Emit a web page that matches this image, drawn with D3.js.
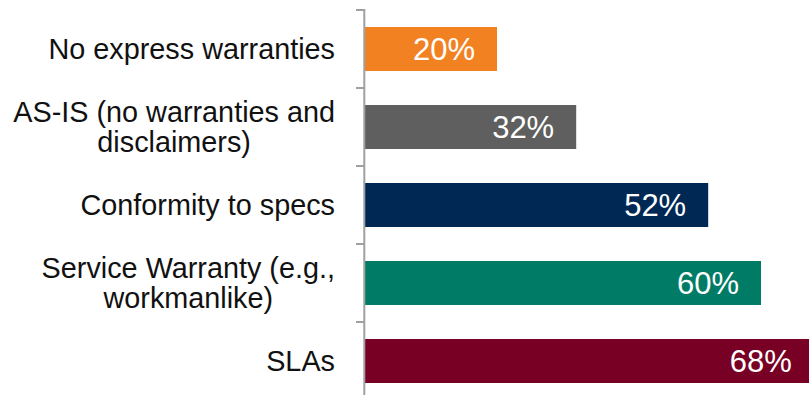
<!DOCTYPE html>
<html>
<head>
<meta charset="utf-8">
<script src="https://cdn.jsdelivr.net/npm/d3@7"></script>
<style>
    body { margin: 0; background: #fff; }
    svg { display: block; }
    .cat-label { font-family: "Liberation Sans", Arial, sans-serif; font-size: 28.8px; fill: #111; }
    .value-label { font-family: "Liberation Sans", Arial, sans-serif; font-size: 31px; fill: #fff; }
</style>
</head>
<body>
<div id="chart"></div>
<script>
// Chart data
var categories = ["No express warranties", "AS-IS (no warranties and disclaimers)", "Conformity to specs",
    "Service Warranty (e.g., workmanlike)", "SLAs"];
var labelLines = [
    ["No express warranties"],
    ["AS-IS (no warranties and", "disclaimers)"],
    ["Conformity to specs"],
    ["Service Warranty (e.g.,", "workmanlike)"],
    ["SLAs"]
];
var values = [20, 32, 52, 60, 68];
var colors = ["#f28221", "#5f5f5f", "#002855", "#007b65", "#780024"];

var width = 809,
    height = 395;

var svg = d3.select("#chart").append("svg")
    .attr("width", width)
    .attr("height", height);

// Scales
var x = d3.scaleLinear()
    .domain([0, 100])
    .range([365, 1025]);

var y = d3.scaleBand()
    .domain(categories)
    .range([10, 400])
    .paddingInner(0.436)
    .paddingOuter(0.218);

// Bars
svg.selectAll(".bar")
    .data(values)
    .enter().append("rect")
    .attr("class", "bar")
    .attr("x", x(0))
    .attr("y", function (d, i) { return y(categories[i]); })
    .attr("width", function (d) { return x(d) - x(0); })
    .attr("height", y.bandwidth())
    .attr("fill", function (d, i) { return colors[i]; });

// Value labels (inside end)
svg.selectAll(".value-label")
    .data(values)
    .enter().append("text")
    .attr("class", "value-label")
    .attr("x", function (d) { return x(d) - 22; })
    .attr("y", function (d, i) { return y(categories[i]) + y.bandwidth() / 2 + 11; })
    .attr("text-anchor", "end")
    .text(function (d) { return d + "%"; });

// Axis line with ticks at category boundaries
var axisColor = "#a0a0a0";
var halfGap = y.step() * y.paddingInner() / 2;
var boundaries = categories.map(function (c) { return y(c) - halfGap; });
boundaries.push(y(categories[categories.length - 1]) + y.bandwidth() + halfGap);

var axis = svg.append("g").attr("class", "y-axis");

axis.append("line")
    .attr("x1", x(0) - 0.7).attr("x2", x(0) - 0.7)
    .attr("y1", boundaries[0] - 1)
    .attr("y2", boundaries[boundaries.length - 1])
    .attr("stroke", axisColor)
    .attr("stroke-width", 2);

axis.selectAll(".tick")
    .data(boundaries)
    .enter().append("line")
    .attr("class", "tick")
    .attr("x1", x(0) - 9).attr("x2", x(0) - 0.7)
    .attr("y1", function (d) { return d; })
    .attr("y2", function (d) { return d; })
    .attr("stroke", axisColor)
    .attr("stroke-width", 2);

// Category labels: block right-aligned, lines centred within the block
var labelRight = 335,
    lineGap = 30;

labelLines.forEach(function (lines, i) {
    var center = y(categories[i]) + y.bandwidth() / 2;
    var g = svg.append("g").attr("class", "cat-group");
    var texts = lines.map(function (line, j) {
        return g.append("text")
            .attr("class", "cat-label")
            .attr("y", center + 10 + (j - (lines.length - 1) / 2) * lineGap)
            .attr("text-anchor", "middle")
            .text(line);
    });
    var blockWidth = d3.max(texts, function (t) { return t.node().getComputedTextLength(); });
    texts.forEach(function (t) { t.attr("x", labelRight - blockWidth / 2); });
});
</script>
</body>
</html>
